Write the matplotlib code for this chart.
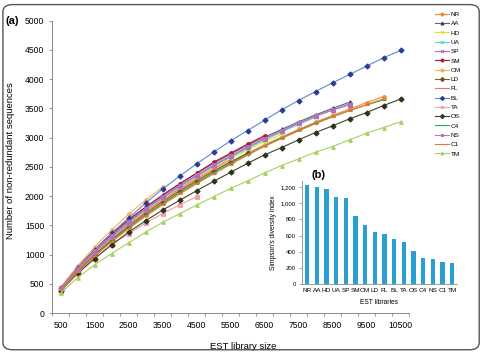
import matplotlib.pyplot as plt
from matplotlib.patches import FancyBboxPatch
from matplotlib.ticker import FuncFormatter, MultipleLocator

plt.rcParams['font.family'] = ['Liberation Sans', 'DejaVu Sans']

# library sizes (x positions of rarefaction points)
sizes = [500, 1000, 1500, 2000, 2500, 3000, 3500, 4000, 4500, 5000, 5500,
         6000, 6500, 7000, 7500, 8000, 8500, 9000, 9500, 10000, 10500]

# number of non-redundant sequences per library (each list starts at 500)
NR = [395, 710, 990, 1240, 1470, 1685, 1885, 2075, 2250, 2420, 2580, 2735,
      2880, 3010, 3140, 3265, 3380, 3490, 3600, 3703]
AA = [425, 770, 1070, 1340, 1580, 1810, 2020, 2210, 2390, 2560, 2720, 2870,
      3010, 3140, 3270, 3390, 3500, 3607]
HD = [405, 735, 1025, 1285, 1520, 1740, 1945, 2135, 2310, 2480, 2640, 2790,
      2930, 3060]
UA = [410, 745, 1040, 1300, 1540, 1760, 1965, 2155, 2335, 2505, 2665, 2815,
      2960, 3095, 3225, 3350]
SP = [415, 755, 1050, 1310, 1550, 1775, 1980, 2170, 2350, 2520, 2680, 2835,
      2980, 3115, 3245, 3365, 3475, 3580]
SM = [430, 780, 1085, 1360, 1600, 1810, 2010, 2210, 2392, 2580, 2734, 2890,
      3035]
OM = [435, 805, 1130, 1420, 1690, 1930, 2154]
LD = [400, 720, 1000, 1255, 1490, 1705, 1905, 2090, 2265, 2430, 2585, 2735]
FL = [400, 725, 1010, 1270, 1505, 1725, 1930, 2120, 2295, 2460, 2620]
BL = [420, 770, 1075, 1366, 1623, 1880, 2120, 2340, 2551, 2751, 2945, 3121,
      3299, 3475, 3635, 3789, 3938, 4080, 4223, 4366, 4491]
TA = [370, 670, 930, 1170, 1354, 1537, 1700, 1850, 1990]
OS = [380, 680, 930, 1166, 1383, 1577, 1760, 1926, 2091, 2251, 2406, 2560,
      2705, 2830, 2962, 3087, 3201, 3321, 3429, 3549, 3659]
C4 = [390, 705, 980, 1230, 1460, 1670, 1870, 2055, 2230, 2400, 2560, 2715,
      2860, 2995, 3125, 3250, 3360, 3465, 3560, 3646]
NS = [420, 760, 1055, 1320, 1560, 1785, 1990, 2180, 2360, 2530, 2690, 2840,
      2985, 3120, 3250, 3370, 3470, 3560]
C1 = [385, 695, 970, 1215, 1440, 1655, 1850, 2035, 2210, 2380, 2540, 2700,
      2850, 2985, 3115, 3240, 3355, 3460, 3565, 3663]
TM = [337, 606, 823, 1017, 1200, 1383, 1549, 1697, 1846, 1989, 2131, 2258,
      2397, 2522, 2637, 2751, 2847, 2962, 3076, 3172, 3271]

libraries = ['NR', 'AA', 'HD', 'UA', 'SP', 'SM', 'OM', 'LD', 'FL', 'BL',
             'TA', 'OS', 'C4', 'NS', 'C1', 'TM']
curves = [NR, AA, HD, UA, SP, SM, OM, LD, FL, BL, TA, OS, C4, NS, C1, TM]

# Simpson's diversity index (panel b)
simpson = [1220, 1195, 1175, 1075, 1060, 845, 730, 640, 625, 565, 520, 405,
           330, 315, 275, 262]

line_colors = ['#f08a3c', '#5a6470', '#e8e020', '#5fd0d0', '#b070c8', '#b01838',
               '#f8b050', '#7a6418', '#f07070', '#5a8ad0', '#f0a0a8', '#3a4820',
               '#20a868', '#b878c0', '#f07828', '#a8d060']
marker_colors = ['#f08a3c', '#3a4450', '#e8e020', '#5fd0d0', '#b070c8', '#b01838',
                 '#f8b050', '#6a5410', '#f07070', '#2a3c98', '#f0a0a8', '#2a3418',
                 '#20a868', '#b070c0', '#f07828', '#a8d060']
markers = ['o', '^', 'x', 'x', 'x', 'o', 'o', 'D', '_', 'D', 's', 'D', '_',
           's', '_', '^']

fig = plt.figure(figsize=(4.88, 3.54), dpi=100)

# rounded frame around the whole figure
frame = FancyBboxPatch((0.006, 0.012), 0.976, 0.975, transform=fig.transFigure,
                       boxstyle='round,pad=0,rounding_size=0.02',
                       facecolor='none', edgecolor='#555555', lw=1.0)
fig.patches.append(frame)

ax = fig.add_axes([0.1066, 0.1158, 0.7316, 0.8257])
for name, ys, lc, mc, mk in zip(libraries, curves, line_colors, marker_colors, markers):
    ax.plot(sizes[:len(ys)], ys, color=lc, lw=0.8, marker=mk, ms=2.6,
            mfc=mc, mec=mc, mew=0.8, label=name)

ax.set_xlim(250, 10750)
ax.set_ylim(0, 5000)
ax.yaxis.set_major_locator(MultipleLocator(500))
ax.set_xticks(sizes[::2])
ax.set_xticks([s - 250 for s in sizes] + [10750], minor=True)
ax.tick_params(axis='x', which='major', length=0, pad=6, labelsize=6.2)
ax.tick_params(axis='x', which='minor', length=2.5, width=0.6, color='#888888')
ax.tick_params(axis='y', length=2.5, width=0.6, color='#888888', labelsize=6.2, pad=3)
for side in ['top', 'right']:
    ax.spines[side].set_visible(False)
for side in ['left', 'bottom']:
    ax.spines[side].set_color('#888888')
    ax.spines[side].set_linewidth(0.7)
ax.set_ylabel('Number of non-redundant sequences', fontsize=6.8)
ax.set_xlabel('EST library size', fontsize=6.8)
ax.yaxis.set_label_coords(-0.104, 0.52)
ax.xaxis.set_label_coords(0.535, -0.098)

fig.text(6 / 488, 1 - 21 / 354, '(a)', fontsize=8, fontweight='bold', va='center')

fig.legend(loc='upper left', bbox_to_anchor=(432 / 488, 1 - 9 / 354),
           frameon=False, fontsize=4.6, handlelength=2.2, handletextpad=0.3,
           labelspacing=0.6, borderaxespad=0, markerscale=0.8)

# inset: Simpson's diversity index
ax2 = fig.add_axes([0.618, 0.1969, 0.3176, 0.2918])
ax2.bar(range(len(libraries)), simpson, width=0.45, color='#2aa0d0')
ax2.set_xlim(-0.58, 15.45)
ax2.set_ylim(0, 1275)
ax2.set_yticks(range(0, 1201, 200))
ax2.yaxis.set_major_formatter(FuncFormatter(lambda v, p: f'{int(v):,}'))
ax2.set_xticks(range(len(libraries)))
ax2.set_xticklabels(libraries)
ax2.tick_params(axis='x', length=0, labelsize=4.6, pad=3)
ax2.tick_params(axis='y', length=2, width=0.5, labelsize=4.3, pad=2, color='#888888')
for side in ['top', 'right']:
    ax2.spines[side].set_visible(False)
for side in ['left', 'bottom']:
    ax2.spines[side].set_color('#888888')
    ax2.spines[side].set_linewidth(0.6)
ax2.set_ylabel("Simpson's diversity index", fontsize=4.8, labelpad=3)
ax2.set_xlabel('EST libraries', fontsize=4.8, labelpad=4)
fig.text(311 / 488, 1 - 175 / 354, '(b)', fontsize=8, fontweight='bold', va='center')

fig.savefig('out.png', dpi=100)
